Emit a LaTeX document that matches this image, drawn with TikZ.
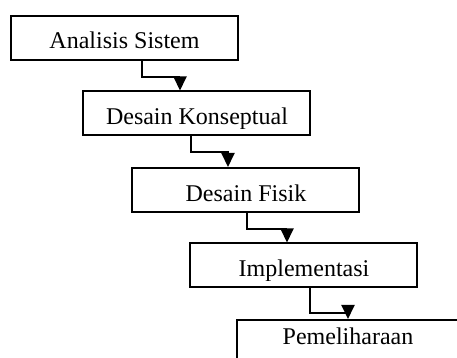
\documentclass[tikz,border=0pt]{standalone}
\usepackage{fontspec}
\setmainfont{Liberation Serif}
\usetikzlibrary{arrows.meta,calc}
\tikzset{
  stagebox/.style={draw=black, line width=1pt, rectangle, minimum width=113.5pt, minimum height=22pt, inner sep=0pt},
  stagetext/.style={anchor=base, inner sep=0pt, font=\fontsize{12pt}{14pt}\selectfont},
  conn/.style={draw=black, line width=1pt, -{Triangle[length=7pt,width=6.5pt]}},
}
\begin{document}
\begin{tikzpicture}[x=0.5pt,y=-0.5pt]
\clip (0,0) rectangle (457,358);
\fill[white] (0,0) rectangle (457,358);
% boxes
\node[stagebox] (b1) at (124.5,38) {};
\node[stagebox] (b2) at (197,113.5) {};
\node[stagebox] (b3) at (245.5,190) {};
\node[stagebox] (b4) at (303.5,265.5) {};
\node[stagebox] (b5) at (350.5,342) {};
% texts (clipped to the box interior like a text frame)
\begin{scope}\clip ([yshift=4pt]b1.south west) rectangle (b1.north east);
\node[stagetext] (t1) at (124.5,49) {Analisis Sistem};\end{scope}
\begin{scope}\clip ([yshift=4pt]b2.south west) rectangle (b2.north east);
\node[stagetext] (t2) at (197,125) {Desain Konseptual};\end{scope}
\begin{scope}\clip ([yshift=4pt]b3.south west) rectangle (b3.north east);
\node[stagetext] (t3) at (246,202) {Desain Fisik};\end{scope}
\begin{scope}\clip ([yshift=4pt]b4.south west) rectangle (b4.north east);
\node[stagetext] (t4) at (304,277) {Implementasi};\end{scope}
\node[stagetext] (t5) at (348,345) {Pemeliharaan};
% connectors
\draw[conn] ([xshift=8.75pt]b1.south) -- ++(0,16) -| ([xshift=-8.5pt]b2.north);
\draw[conn] ([xshift=-3pt]b2.south) -- ++(0,16) -| ([xshift=-8.75pt]b3.north);
\draw[conn] ([xshift=0.75pt]b3.south) -- ++(0,16) -| ([xshift=-8.25pt]b4.north);
\draw[conn] ([xshift=3.25pt]b4.south) -- ++(0,25) -| ([xshift=-1.25pt]b5.north);
\end{tikzpicture}
\end{document}
